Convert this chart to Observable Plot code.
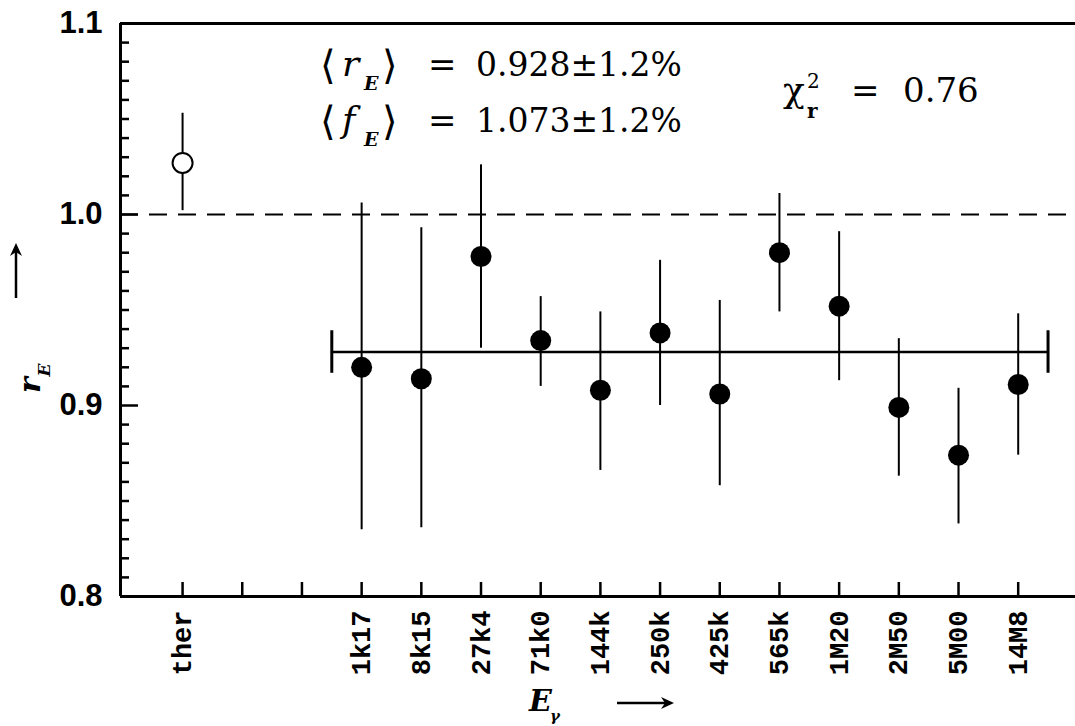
<!DOCTYPE html>
<html>
<head>
<meta charset="utf-8">
<script src="https://cdn.jsdelivr.net/npm/d3@7"></script>
<script src="https://cdn.jsdelivr.net/npm/@observablehq/plot@0.6"></script>
<style>
  html, body { margin: 0; padding: 0; background: #fff; }
  svg { display: block; }
</style>
</head>
<body>
<div id="chart"></div>
<script>
// ---- data ----
const slots = ["ther", "", "", "1k17", "8k15", "27k4", "71k0", "144k", "250k", "425k", "565k", "1M20", "2M50", "5M00", "14M8"];
const thermalLabel = ["ther"];
const thermalValue = [1.027];
const thermalLow = [1.002];
const thermalHigh = [1.053];

const energies = ["1k17", "8k15", "27k4", "71k0", "144k", "250k", "425k", "565k", "1M20", "2M50", "5M00", "14M8"];
const rValues = [0.920, 0.914, 0.978, 0.934, 0.908, 0.938, 0.906, 0.980, 0.952, 0.899, 0.874, 0.911];
const rLow    = [0.835, 0.836, 0.930, 0.910, 0.866, 0.900, 0.858, 0.949, 0.913, 0.863, 0.838, 0.874];
const rHigh   = [1.006, 0.993, 1.026, 0.957, 0.949, 0.976, 0.955, 1.011, 0.991, 0.935, 0.909, 0.948];

const meanR = 0.928;
const meanRelErr = 0.012;
const reference = 1.0;
const yMajorTicks = [0.8, 0.9, 1.0, 1.1];

// ---- tables built from the arrays ----
const idx = s => slots.indexOf(s);
const thermal = thermalLabel.map((e, i) => ({x: idx(e), v: thermalValue[i], lo: thermalLow[i], hi: thermalHigh[i]}));
const points = energies.map((e, i) => ({x: idx(e), v: rValues[i], lo: rLow[i], hi: rHigh[i]}));
const meanX1 = idx(energies[0]) - 0.5;
const meanX2 = idx(energies[energies.length - 1]) + 0.5;
const meanErr = meanR * meanRelErr;
const labeledTicks = slots.map((s, i) => s ? i : null).filter(d => d !== null);
const allSlotTicks = slots.map((s, i) => i);
const minorY = d3.range(81, 110).filter(d => d % 10 !== 0).map(d => d / 100);
const majorInnerY = [0.9, 1.0];

const W = 1075, H = 726;
const mL = 120, mR = 0, mT = 23, mB = 130;
const xDomain = [-1.04, 14.96];
const yDomain = [0.8, 1.1];
// tick lengths (px) converted into data units so ticks can be drawn as rules
const xPerPx = (xDomain[1] - xDomain[0]) / (W - mL - mR);
const yPerPx = (yDomain[1] - yDomain[0]) / (H - mT - mB);
const minorLen = 9 * xPerPx, majorLen = 18 * xPerPx, xTickLen = 14 * yPerPx;

const plot = Plot.plot({
  width: W,
  height: H,
  marginLeft: mL,
  marginRight: mR,
  marginTop: mT,
  marginBottom: mB,
  style: {background: "#fff", color: "#000", overflow: "visible"},
  x: {type: "linear", domain: xDomain},
  y: {type: "linear", domain: yDomain},
  marks: [
    // y tick labels
    Plot.axisY({ticks: yMajorTicks, tickSize: 0, tickPadding: 18, tickFormat: d3.format(".1f"),
                fontSize: 31, fontWeight: "bold", fontFamily: "Liberation Sans, Arial, sans-serif", label: null}),
    // inward y ticks
    Plot.ruleY(minorY, {y: d => d, x1: xDomain[0], x2: xDomain[0] + minorLen, strokeWidth: 2.5}),
    Plot.ruleY(majorInnerY, {y: d => d, x1: xDomain[0], x2: xDomain[0] + majorLen, strokeWidth: 2.5}),
    // x tick labels
    Plot.axisX({ticks: labeledTicks, tickSize: 0, tickPadding: 14, tickRotate: -90,
                tickFormat: i => slots[i], fontSize: 27, fontWeight: "bold",
                fontFamily: "Liberation Mono, Courier New, monospace", label: null}),
    // inward x ticks
    Plot.ruleX(allSlotTicks, {x: d => d, y1: yDomain[0], y2: yDomain[0] + xTickLen, strokeWidth: 2.5}),
    // frame
    Plot.ruleX([xDomain[0]], {strokeWidth: 3}),
    Plot.ruleY([yDomain[0], yDomain[1]], {strokeWidth: 3}),
    // reference dashed line
    Plot.ruleY([reference], {strokeWidth: 2, strokeDasharray: "18,11"}),
    // mean line with end caps
    Plot.ruleY([meanR], {x1: meanX1, x2: meanX2, strokeWidth: 2.6}),
    Plot.ruleX([meanX1, meanX2], {y1: meanR - meanErr, y2: meanR + meanErr, strokeWidth: 3}),
    // error bars
    Plot.ruleX(thermal, {x: "x", y1: "lo", y2: "hi", strokeWidth: 2}),
    Plot.ruleX(points, {x: "x", y1: "lo", y2: "hi", strokeWidth: 2}),
    // points
    Plot.dot(thermal, {x: "x", y: "v", r: 10, fill: "#fff", stroke: "#000", strokeWidth: 2}),
    Plot.dot(points, {x: "x", y: "v", r: 10.5, fill: "#000", stroke: "none"})
  ]
});

document.getElementById("chart").appendChild(plot);

// ---- annotations (math-style text with sub/superscripts) ----
const svg = d3.select(plot);
const serif = "DejaVu Serif, Liberation Serif, serif";
const g = svg.append("g").attr("fill", "#000");

function piece(x, y, str, opts = {}) {
  g.append("text")
    .attr("x", x).attr("y", y)
    .attr("font-family", opts.family || serif)
    .attr("font-size", opts.size || 34)
    .attr("font-style", opts.style || "normal")
    .attr("font-weight", opts.weight || "normal")
    .attr("text-anchor", opts.anchor || "start")
    .text(str);
}

function meanLine(baseline, sym, value) {
  piece(320, baseline + 3, "\u27E8", {size: 40, family: "DejaVu Sans, sans-serif"});
  piece(342, baseline, sym, {style: "italic", size: 36});
  piece(364, baseline + 14, "E", {style: "italic", weight: "bold", size: 19});
  piece(382, baseline + 3, "\u27E9", {size: 40, family: "DejaVu Sans, sans-serif"});
  piece(428, baseline, "=", {size: 34});
  piece(476, baseline, value, {size: 33});
}
meanLine(76, "r", "0.928\u00B11.2%");
meanLine(132, "f", "1.073\u00B11.2%");

// chi-squared
piece(783, 102, "\u03C7", {size: 36});
piece(807, 88, "2", {size: 20});
piece(807, 118, "r", {size: 20, weight: "bold"});
piece(851, 102, "=", {size: 34});
piece(903, 102, "0.76", {size: 34});

// y-axis label: r_E with upward arrow
const yl = g.append("g").attr("transform", "translate(40,385) rotate(-90)");
yl.append("text").attr("x", 0).attr("y", 0)
  .attr("font-family", serif).attr("font-size", 30).attr("font-style", "italic").attr("font-weight", "bold")
  .text("r");
yl.append("text").attr("x", 15).attr("y", 10)
  .attr("font-family", serif).attr("font-size", 17).attr("font-style", "italic").attr("font-weight", "bold")
  .text("E");
g.append("line").attr("x1", 16).attr("x2", 16).attr("y1", 298).attr("y2", 247)
  .attr("stroke", "#000").attr("stroke-width", 2.5);
g.append("path").attr("d", "M16,243 L10,256 L16,252 L22,256 Z").attr("fill", "#000");

// x-axis label: E_gamma with right arrow
piece(529, 711, "E", {size: 30, style: "italic", weight: "bold"});
piece(550, 721, "\u03B3", {size: 15, style: "italic", weight: "bold"});
g.append("line").attr("x1", 617).attr("x2", 670).attr("y1", 703).attr("y2", 703)
  .attr("stroke", "#000").attr("stroke-width", 2.5);
g.append("path").attr("d", "M674,703 L661,697 L665,703 L661,709 Z").attr("fill", "#000");
</script>
</body>
</html>
